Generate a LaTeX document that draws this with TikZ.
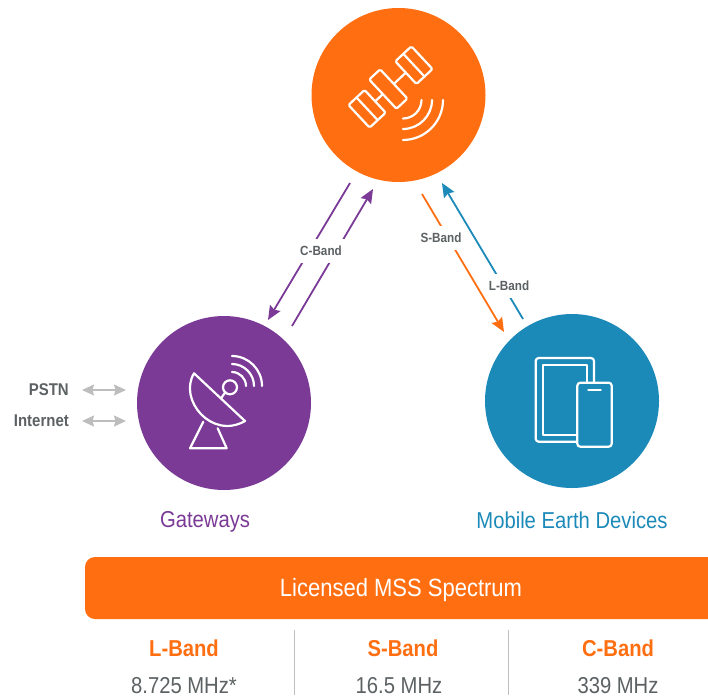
\documentclass[tikz,border=0pt]{standalone}
\usepackage{fontspec}
\setmainfont{Liberation Sans}[FakeStretch=0.88]
\usetikzlibrary{arrows.meta}
\definecolor{sorange}{HTML}{FF6F12}
\definecolor{spurple}{HTML}{7B3A96}
\definecolor{sblue}{HTML}{1C8AB8}
\definecolor{sgrey}{HTML}{5C6163}
\definecolor{sarrow}{HTML}{BDBDBD}
\newcommand\fs[1]{\fontsize{#1}{#1}\selectfont}
\newcommand\qarc[4]{% cx cy r ysign
  ({#1+#3},{#2}) .. controls ({#1+#3},{#2+#4*.55*#3}) and ({#1+.55*#3},{#2+#4*#3}) .. ({#1},{#2+#4*#3})}
\tikzset{
  x=1pt,y=-1pt,
  hub/.style={circle,minimum size=174pt,inner sep=0pt,fill=#1},
  icon/.style={draw=white,line width=2.2pt,line join=round,line cap=round,fill=none},
  link/.style={line width=1.8pt,draw=#1,-{Stealth[length=14pt,width=12pt,inset=2pt]}},
  bandlabel/.style={fill=white,inner sep=0pt,minimum height=24pt,minimum width=44pt,text=sgrey,font=\fs{13.3}\bfseries},
  ext/.style={line width=1.5pt,draw=sarrow,{Stealth[length=12pt,width=11pt,inset=1.5pt]}-{Stealth[length=12pt,width=11pt,inset=1.5pt]}},
  extlabel/.style={anchor=east,inner sep=0pt,text=sgrey,font=\fs{17}\bfseries},
  title/.style={inner sep=0pt,font=\fs{23},text=#1},
  bandhead/.style={inner sep=0pt,font=\fs{23}\bfseries,text=sorange},
  bandval/.style={inner sep=0pt,font=\fs{23},text=sgrey},
  divider/.style={draw=black!25,line width=1pt},
}
\begin{document}
\begin{tikzpicture}
\useasboundingbox (0,0) rectangle (708,699);
\coordinate (c1a) at (350,183); \coordinate (c1b) at (268,320);
\coordinate (c2a) at (292,326); \coordinate (c2b) at (373,189);
\coordinate (s1a) at (422,194); \coordinate (s1b) at (504,332);
\coordinate (l1a) at (523,319); \coordinate (l1b) at (442,183);
\coordinate (p1a) at (82,390);  \coordinate (p1b) at (126,390);
\coordinate (i1a) at (82,421);  \coordinate (i1b) at (126,421);
\draw[link=spurple] (c1a) -- (c1b);
\draw[link=spurple] (c2a) -- (c2b);
\draw[link=sorange] (s1a) -- (s1b);
\draw[link=sblue] (l1a) -- (l1b);
\node[bandlabel,minimum width=50pt] (cband) at (321,251) {C-Band};
\node[bandlabel] (sband) at (441,238) {S-Band};
\node[bandlabel] (lband) at (509,286) {L-Band};
\node[hub=sorange] (sat) at (398.5,95) {};
\node[hub=spurple] (gw) at (224,403) {};
\node[hub=sblue] (dev) at (572,401) {};
% satellite icon
\begin{scope}[shift={(390.5,87)},rotate=43]
  \draw[icon,rounded corners=1.5pt] (-10.5,-20) rectangle (4.5,20);
  \draw[icon,rounded corners=1.5pt] (21,-15.5) rectangle (43,15.5);
  \draw[icon,rounded corners=1.5pt] (-43,-15.5) rectangle (-21,15.5);
  \draw[icon] (4.5,0) -- (21,0) (-10.5,0) -- (-21,0) (32,-15.5) -- (32,15.5) (-32,-15.5) -- (-32,15.5);
\end{scope}
\draw[icon] \qarc{403}{100}{18.5}{1};
\draw[icon] \qarc{403}{100}{29}{1};
\draw[icon] \qarc{403}{100}{40}{1};
% dish icon
\draw[icon] (194,373.3) -- (245,421) .. controls (212,440) and (178,400) .. cycle;
\draw[icon] (221,398.3) -- (225.5,392);
\draw[icon] (230,387.3) circle[radius=7];
\draw[icon] (203.3,421.7) -- (190,448.3) -- (226.7,448.3) -- (217.7,428.3);
\draw[icon] \qarc{232}{386}{14}{-1};
\draw[icon] \qarc{232}{386}{22}{-1};
\draw[icon] \qarc{232}{386}{30}{-1};
% devices icon
\draw[icon,rounded corners=3pt] (535.7,358) rectangle (594,441.7);
\draw[icon] (543,365) rectangle (587,435);
\draw[icon,fill=sblue,rounded corners=3pt] (577.3,382.7) rectangle (611.7,446.7);
\draw[icon] (588.3,390) -- (600.7,390);
% external links
\draw[ext] (p1a) -- (p1b);
\draw[ext] (i1a) -- (i1b);
\node[extlabel] (pstn) at (69,390) {PSTN};
\node[extlabel] (inet) at (69,421) {Internet};
% titles
\node[title=spurple] (gwt) at (205,522) {Gateways};
\node[title=sblue] (devt) at (572,520) {Mobile Earth Devices};
% banner
\fill[sorange,rounded corners=10pt] (85,557) rectangle (730,619);
\node[inner sep=0pt,font=\fs{25},text=white] (ban) at (401,590) {Licensed MSS Spectrum};
\node[bandhead] (h1) at (184,648) {L-Band};
\node[bandhead] (h2) at (403,648) {S-Band};
\node[bandhead] (h3) at (618,648) {C-Band};
\node[bandval] (v1) at (184,686) {8.725 MHz*};
\node[bandval] (v2) at (399,686) {16.5 MHz};
\node[bandval] (v3) at (618,686) {339 MHz};
\draw[divider] (294,630) -- (294,695);
\draw[divider] (508,630) -- (508,695);
\end{tikzpicture}
\end{document}
